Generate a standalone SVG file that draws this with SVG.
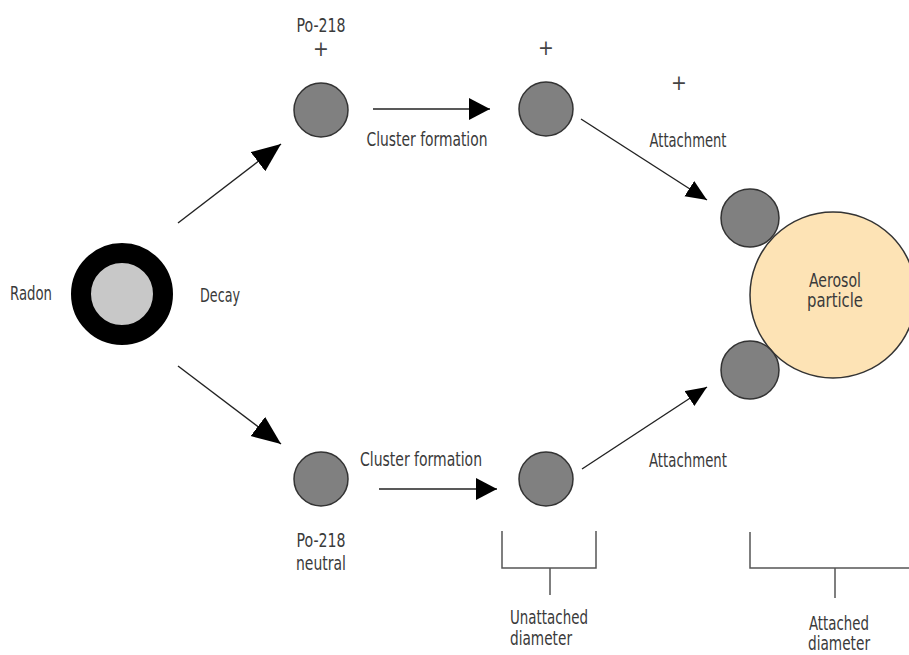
<svg xmlns="http://www.w3.org/2000/svg" width="909" height="655" viewBox="0 0 909 655">
  <style>
    text { font-family: "DejaVu Sans Condensed", "DejaVu Sans", sans-serif; font-stretch: condensed; font-size: 19px; fill: #3a3a3a; }
    .mid { text-anchor: middle; }
    .ion { fill: #808080; stroke: #333; stroke-width: 1.5; }
    .conn { stroke: #222; stroke-width: 1.4; fill: none; }
    .brk { stroke: #555; stroke-width: 1.5; fill: none; }
    .plus { font-size: 21px; fill: #444; }
  </style>
  <defs>
    <marker id="headL" markerUnits="userSpaceOnUse" markerWidth="30" markerHeight="26" refX="29" refY="12" orient="auto">
      <path d="M0,0 L29,12 L0,24 Z" fill="#000"/>
    </marker>
    <marker id="headS" markerUnits="userSpaceOnUse" markerWidth="22" markerHeight="24" refX="21" refY="11" orient="auto">
      <path d="M0,0 L21,11 L0,22 Z" fill="#000"/>
    </marker>
    <marker id="headA" markerUnits="userSpaceOnUse" markerWidth="22" markerHeight="20" refX="21" refY="9" orient="auto">
      <path d="M0,0 L21,9 L0,18 Z" fill="#000"/>
    </marker>
  </defs>

  <rect width="909" height="655" fill="#fff"/>

  <!-- connectors -->
  <g id="connectors">
    <line class="conn" x1="178" y1="223" x2="281" y2="144" marker-end="url(#headL)"/>
    <line class="conn" x1="178" y1="366" x2="281" y2="444" marker-end="url(#headL)"/>
    <line class="conn" x1="373" y1="109" x2="490" y2="109" marker-end="url(#headS)"/>
    <line class="conn" x1="379" y1="489" x2="497" y2="489" marker-end="url(#headS)"/>
    <line class="conn" x1="581" y1="119" x2="707" y2="200" marker-end="url(#headA)"/>
    <line class="conn" x1="582" y1="469" x2="707" y2="387" marker-end="url(#headA)"/>
  </g>

  <!-- radon atom -->
  <g id="radon">
    <circle cx="122" cy="294" r="41" fill="#c8c8c8" stroke="#000" stroke-width="20"/>
    <text x="10" y="300" textLength="42" lengthAdjust="spacingAndGlyphs">Radon</text>
    <text x="200" y="302" textLength="40" lengthAdjust="spacingAndGlyphs">Decay</text>
  </g>

  <!-- charged Po-218 -->
  <g id="po218-ion">
    <circle class="ion" cx="321" cy="110" r="27"/>
    <text class="mid" x="321" y="32" textLength="49" lengthAdjust="spacingAndGlyphs">Po-218</text>
    <text class="mid plus" x="321" y="56">+</text>
  </g>

  <!-- charged cluster -->
  <g id="cluster-ion">
    <circle class="ion" cx="546" cy="109" r="27"/>
    <text class="mid plus" x="546" y="55">+</text>
    <text class="mid" x="427" y="146" textLength="121" lengthAdjust="spacingAndGlyphs">Cluster formation</text>
  </g>

  <!-- neutral Po-218 -->
  <g id="po218-neutral">
    <circle class="ion" cx="321" cy="479" r="27"/>
    <text class="mid" x="321" y="547" textLength="49" lengthAdjust="spacingAndGlyphs">Po-218</text>
    <text class="mid" x="321" y="570" textLength="50" lengthAdjust="spacingAndGlyphs">neutral</text>
  </g>

  <!-- neutral cluster -->
  <g id="cluster-neutral">
    <circle class="ion" cx="546" cy="479" r="27"/>
    <text class="mid" x="421" y="466" textLength="122" lengthAdjust="spacingAndGlyphs">Cluster formation</text>
  </g>

  <!-- aerosol with attached clusters -->
  <g id="aerosol">
    <circle cx="833" cy="295" r="83" fill="#fde3b5" stroke="#333" stroke-width="1.5"/>
    <circle class="ion" cx="750" cy="218" r="29"/>
    <circle class="ion" cx="750" cy="370" r="29"/>
    <text class="mid" x="835" y="287" textLength="52" lengthAdjust="spacingAndGlyphs">Aerosol</text>
    <text class="mid" x="835" y="307" textLength="56" lengthAdjust="spacingAndGlyphs">particle</text>
    <text class="mid plus" x="679" y="90">+</text>
    <text class="mid" x="688" y="147" textLength="77" lengthAdjust="spacingAndGlyphs">Attachment</text>
    <text class="mid" x="688" y="467" textLength="78" lengthAdjust="spacingAndGlyphs">Attachment</text>
  </g>

  <!-- size brackets -->
  <g id="unattached-diameter">
    <path class="brk" d="M502,531 V568 H596 V531 M550,568 V595"/>
    <text class="mid" x="549" y="624" textLength="78" lengthAdjust="spacingAndGlyphs">Unattached</text>
    <text class="mid" x="541" y="645" textLength="62" lengthAdjust="spacingAndGlyphs">diameter</text>
  </g>
  <g id="attached-diameter">
    <path class="brk" d="M750,532 V568 H909 M835,568 V598"/>
    <text class="mid" x="839" y="630" textLength="60" lengthAdjust="spacingAndGlyphs">Attached</text>
    <text class="mid" x="839" y="650" textLength="62" lengthAdjust="spacingAndGlyphs">diameter</text>
  </g>
</svg>
